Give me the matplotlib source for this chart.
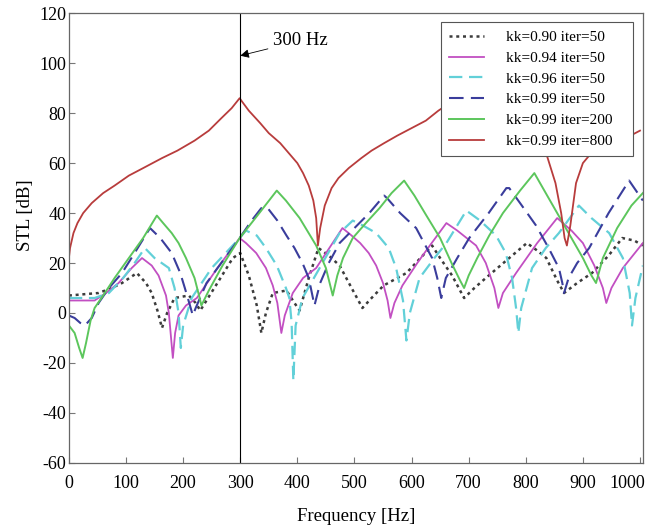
import numpy as np
import matplotlib
matplotlib.use("Agg")
import matplotlib.pyplot as plt
import matplotlib.transforms as mtransforms

plt.rcParams['font.family'] = ['Liberation Serif', 'DejaVu Serif']
plt.rcParams['axes.unicode_minus'] = False

# kk=0.99 iter=800
freq_800 = [0, 2, 8, 15, 25, 40, 60, 80, 105, 130, 163, 190, 220, 245, 267, 285, 299, 302, 315, 335, 350, 370,
            385, 400, 410, 420, 428, 433, 436, 440, 448, 460, 472, 490, 512, 530, 552, 575, 600, 625, 647, 680,
            720, 760, 790, 815, 837, 852, 862, 868, 872, 878, 888, 900, 911, 930, 950, 975, 1000]
stl_800 = [22, 26, 32, 36, 40, 44, 48, 51, 55, 58, 62, 65, 69, 73, 78, 82, 86, 85, 81, 76, 72, 68,
           64, 60, 56, 51, 45, 38, 27, 34, 43, 50, 54, 58, 62, 65, 68, 71, 74, 77, 81, 86,
           90, 88, 82, 74, 63, 52, 40, 30, 27, 35, 52, 60, 63, 66, 68, 70, 73]

# kk=0.99 iter=200
freq_200 = [0, 10, 18, 24, 30, 38, 45, 60, 80, 105, 130, 154, 165, 180, 192, 205, 220, 229, 232, 245, 269, 299,
            330, 364, 380, 404, 433, 450, 462, 470, 480, 497, 520, 544, 565, 587, 605, 626, 650, 670, 685, 692,
            700, 715, 736, 760, 790, 815, 840, 870, 900, 915, 923, 935, 960, 985, 1005]
stl_200 = [-5, -8, -14, -18, -12, -3, 2, 7, 14, 22, 30, 39, 36, 32, 28, 22, 14, 6, 3, 9, 19, 30,
           39, 49, 45, 38, 27, 18, 7, 15, 22, 30, 36, 42, 48, 53, 47, 39, 30, 20, 13, 10,
           15, 22, 31, 40, 49, 56, 46, 34, 22, 15, 12, 22, 34, 43, 48]

# kk=0.94 iter=50
freq_094 = [0, 45, 65, 87, 110, 128, 145, 157, 170, 175, 182, 186, 192, 205, 224, 260, 299, 310, 328, 345, 357,
            365, 372, 378, 392, 410, 433, 456, 479, 495, 510, 525, 538, 550, 558, 563, 570, 584, 610, 632, 661,
            680, 713, 730, 745, 752, 760, 783, 820, 855, 880, 900, 920, 935, 941, 950, 970, 1005]
stl_094 = [5, 5, 8, 12, 18, 22, 19, 15, 7, 0, -18, -8, -1, 3, 6, 18, 30, 28, 24, 18, 11,
           4, -8, -1, 8, 14, 18, 26, 34, 31, 28, 24, 19, 12, 5, -2, 4, 11, 20, 27, 36,
           33, 27, 20, 10, 2, 8, 16, 28, 38, 33, 28, 19, 10, 4, 10, 18, 28]

# kk=0.96 iter=50
freq_096 = [0, 45, 70, 95, 115, 133, 150, 175, 185, 192, 196, 200, 215, 250, 299, 310, 329, 345, 364, 380, 386,
            390, 393, 397, 409, 444, 474, 497, 515, 538, 560, 573, 585, 591, 597, 614, 640, 661, 696, 720, 748,
            765, 776, 783, 787, 792, 811, 835, 858, 893, 915, 946, 970, 982, 986, 992, 1005]
stl_096 = [6, 6, 8, 14, 20, 26, 22, 18, 10, 0, -14, -5, 6, 18, 30, 33, 31, 26, 19, 10, 6,
           -4, -27, -5, 6, 20, 32, 37, 35, 32, 26, 18, 5, -11, 0, 14, 22, 28, 41, 37, 31,
           24, 14, 2, -8, 2, 18, 26, 32, 43, 38, 32, 22, 8, -5, 6, 19]

# kk=0.99 iter=50
freq_099 = [0, 10, 20, 28, 40, 52, 70, 93, 115, 142, 160, 180, 195, 203, 212, 217, 222, 241, 270, 299, 320, 337,
            348, 365, 381, 395, 409, 420, 430, 440, 455, 474, 500, 526, 552, 557, 580, 608, 636, 645, 652, 660,
            680, 701, 735, 766, 771, 790, 818, 840, 858, 864, 867, 875, 890, 911, 945, 981, 993, 1005]
stl_099 = [-1, -2, -4, -5, -2, 4, 10, 16, 24, 34, 30, 24, 16, 10, 3, -1, 2, 12, 21, 30, 37, 42,
           42, 37, 31, 26, 20, 14, 3, 12, 20, 28, 34, 40, 47, 46, 40, 34, 22, 14, 6, 14,
           22, 30, 40, 50, 50, 44, 35, 26, 18, 12, 8, 14, 20, 26, 40, 53, 49, 45]

# kk=0.90 iter=50
freq_090 = [0, 52, 75, 93, 119, 135, 145, 155, 163, 172, 185, 210, 222, 230, 260, 287, 300, 315, 329, 337, 345,
            357, 381, 395, 404, 420, 437, 455, 474, 495, 514, 530, 551, 591, 636, 650, 671, 685, 692, 710, 730,
            771, 802, 820, 836, 855, 867, 890, 916, 945, 969, 990, 1005]
stl_090 = [7, 8, 10, 12, 16, 12, 8, 1, -6, 0, 6, 7, 4, 1, 12, 22, 24, 15, 3, -8, 0,
           8, 9, 4, 1, 14, 26, 23, 19, 10, 2, 6, 11, 16, 27, 22, 15, 9, 6, 10, 14,
           22, 28, 25, 22, 13, 8, 12, 16, 23, 30, 29, 27]

fig = plt.figure(figsize=(6.5, 5.29), dpi=100)
ax = fig.add_axes([0.106, 0.125, 0.883, 0.85])

ax.plot(freq_090, stl_090, color='#3c3c3c', linestyle=(0, (1.2, 1.5)), lw=1.8, label='kk=0.90 iter=50')
ax.plot(freq_094, stl_094, color='#c24fc2', lw=1.3, label='kk=0.94 iter=50')
ax.plot(freq_096, stl_096, color='#62d0d8', linestyle=(0, (6, 3)), lw=1.6, label='kk=0.96 iter=50')
ax.plot(freq_099, stl_099, color='#3a3d9c', linestyle=(0, (7, 3.5)), lw=1.5, label='kk=0.99 iter=50')
ax.plot(freq_200, stl_200, color='#5cc65c', lw=1.4, label='kk=0.99 iter=200')
ax.plot(freq_800, stl_800, color='#b83c3c', lw=1.3, label='kk=0.99 iter=800')

ax.axvline(300, color='black', lw=0.8)
ax.annotate('300 Hz', xy=(300, 103), xytext=(358, 109), fontsize=13.5, va='center',
            arrowprops=dict(arrowstyle='-|>', color='black', lw=0.6, shrinkA=2, shrinkB=0,
                            mutation_scale=13))

ax.set_xlim(0, 1005)
ax.set_ylim(-60, 120)
ax.set_xticks(np.arange(0, 1001, 100))
ax.set_yticks(np.arange(-60, 121, 20))
ax.tick_params(direction='in', labelsize=13, length=4, color='#777777')
ax.tick_params(axis='x', pad=9)
ax.tick_params(axis='y', pad=2)
for sp in ax.spines.values():
    sp.set_color('#666666')
    sp.set_linewidth(0.9)

# last x label sits a little left of its tick in the original
last = ax.get_xticklabels()[-1]
last.set_transform(last.get_transform() + mtransforms.ScaledTranslation(-9 / 72, 0, fig.dpi_scale_trans))

ax.set_xlabel('Frequency [Hz]', fontsize=13.5, labelpad=11)
ax.set_ylabel('STL [dB]', fontsize=13.5)
ax.yaxis.set_label_coords(-0.06, 0.55)

leg = ax.legend(loc='upper left', bbox_to_anchor=(0.648, 0.0, 0.335, 0.98), mode='expand',
                borderaxespad=0, fontsize=11, fancybox=False,
                edgecolor='#555555', framealpha=1, labelspacing=0.46, handlelength=2.3,
                handletextpad=1.4, borderpad=0.55)
leg.get_frame().set_linewidth(0.8)

fig.savefig('out.png', dpi=100)
